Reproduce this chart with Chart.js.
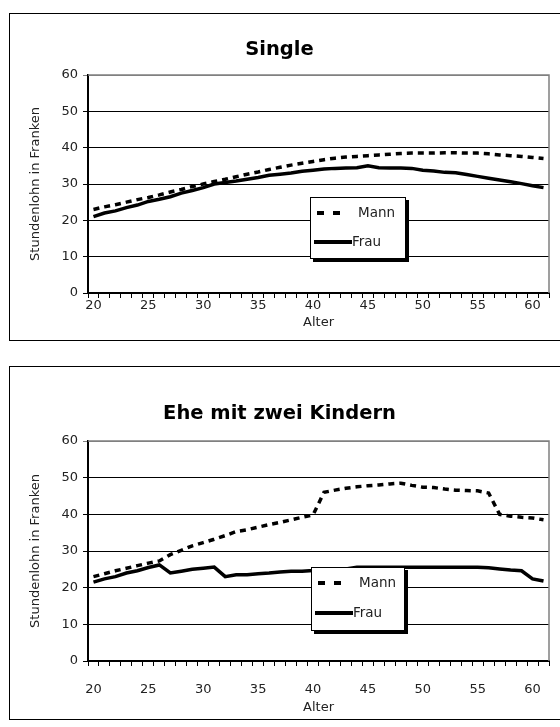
<!DOCTYPE html>
<html>
<head>
<meta charset="utf-8">
<script src="https://cdn.jsdelivr.net/npm/chart.js@4.4.1/dist/chart.umd.min.js"></script>
<style>
  body { margin: 0; background: #fff; width: 560px; height: 727px; overflow: hidden; position: relative; font-family: "DejaVu Sans", sans-serif; }
  .box { position: absolute; left: 9px; width: 560px; border: 1px solid #000; background: #fff; }
  #box1 { top: 13px; height: 326px; }
  #box2 { top: 366px; height: 352px; }
  canvas { display: block; }
  .legend { position: absolute; background: #fff; border: 1px solid #000; box-shadow: 3px 3px 0 #000; font-size: 13.5px; color: #222; }
  .row { position: absolute; left: 0; height: 18px; line-height: 18px; }
  .sample { position: absolute; top: 8px; height: 4px; background: #000; }
  .txt { position: absolute; left: 41px; top: 0; }
</style>
</head>
<body>
<div class="box" id="box1"><canvas id="single" width="560" height="326"></canvas></div>
<div class="box" id="box2"><canvas id="ehe" width="560" height="352"></canvas></div>

<div class="legend" style="left:310px;top:197px;width:94px;height:60px;">
  <div class="row" style="top:5px;"><div class="sample" style="left:6px;width:7px"></div><div class="sample" style="left:22px;width:7px"></div><span class="txt" style="left:47px">Mann</span></div>
  <div class="row" style="top:34px;"><div class="sample" style="left:3px;width:38px"></div><span class="txt">Frau</span></div>
</div>
<div class="legend" style="left:311px;top:567px;width:92px;height:62px;">
  <div class="row" style="top:5px;"><div class="sample" style="left:6px;width:7px"></div><div class="sample" style="left:22px;width:7px"></div><span class="txt" style="left:47px">Mann</span></div>
  <div class="row" style="top:35px;"><div class="sample" style="left:3px;width:38px"></div><span class="txt">Frau</span></div>
</div>

<script>
// Alter (x-axis categories)
const ages = [20, 21, 22, 23, 24, 25, 26, 27, 28, 29, 30, 31, 32, 33, 34, 35, 36, 37, 38, 39, 40,
  41, 42, 43, 44, 45, 46, 47, 48, 49, 50, 51, 52, 53, 54, 55, 56, 57, 58, 59, 60, 61];

// Single
const singleMann = [23, 23.7, 24.3, 25, 25.7, 26.3, 27, 27.8, 28.5, 29.3, 30, 30.7, 31.3, 32, 32.7, 33.3, 34, 34.6, 35.2, 35.7, 36.2,
  36.7, 37.1, 37.4, 37.6, 37.8, 38, 38.2, 38.4, 38.5, 38.5, 38.5, 38.6, 38.6, 38.5, 38.5, 38.3, 38, 37.8, 37.6, 37.3, 37];
const singleFrau = [21, 22, 22.6, 23.5, 24.2, 25.2, 25.8, 26.5, 27.5, 28.2, 29, 30, 30.4, 30.8, 31.3, 31.8, 32.4, 32.7, 33, 33.5, 33.8,
  34.1, 34.3, 34.4, 34.5, 35, 34.5, 34.4, 34.4, 34.3, 33.8, 33.6, 33.2, 33.1, 32.6, 32.1, 31.6, 31.1, 30.6, 30.1, 29.5, 29];

// Ehe mit zwei Kindern
const eheMann = [23, 23.8, 24.6, 25.3, 26, 26.7, 27.3, 29, 30.2, 31.4, 32.3, 33.2, 34.2, 35.3, 35.8, 36.5, 37.2, 37.8, 38.5, 39.2, 39.8,
  46, 46.6, 47.1, 47.5, 47.8, 48, 48.3, 48.5, 47.9, 47.4, 47.3, 46.9, 46.6, 46.5, 46.4, 45.8, 40, 39.5, 39.2, 39, 38.5];
const eheFrau = [21.5, 22.4, 23, 24, 24.6, 25.5, 26.2, 24, 24.5, 25, 25.3, 25.6, 23, 23.5, 23.5, 23.8, 24, 24.3, 24.5, 24.5, 24.7,
  25, 25, 25.1, 25.6, 25.6, 25.6, 25.6, 25.6, 25.6, 25.6, 25.6, 25.6, 25.6, 25.6, 25.6, 25.4, 25.1, 24.8, 24.6, 22.4, 21.8];

const yTicks = [0, 10, 20, 30, 40, 50, 60];
const FONT = "'DejaVu Sans', sans-serif";
const TXT = "#222";

// grey frame on top and right of the plot area
const framePlugin = {
  id: "frame",
  afterDraw(chart) {
    const { ctx, chartArea: a } = chart;
    ctx.save();
    ctx.strokeStyle = "#808080";
    ctx.lineWidth = 1.5;
    ctx.beginPath();
    ctx.moveTo(a.left, a.top);
    ctx.lineTo(a.right, a.top);
    ctx.lineTo(a.right, a.bottom);
    ctx.stroke();
    ctx.restore();
  },
};

function makeChart(id, title, mann, frau, cfg) {
  const canvas = document.getElementById(id);
  return new Chart(canvas.getContext("2d"), {
    type: "line",
    data: {
      labels: ages,
      datasets: [
        { label: "Mann", data: mann, borderColor: "#000", borderWidth: 3.5, borderDash: [6, 5], pointRadius: 0, tension: 0 },
        { label: "Frau", data: frau, borderColor: "#000", borderWidth: 3.5, pointRadius: 0, tension: 0 },
      ],
    },
    options: {
      responsive: false,
      animation: false,
      layout: { padding: { left: 0, right: 21, top: 0, bottom: 0 } },
      plugins: {
        legend: { display: false },
        tooltip: { enabled: false },
        title: {
          display: true,
          text: title,
          color: "#000",
          font: { family: FONT, size: 19.5, weight: "bold" },
          padding: { top: cfg.titleTop, bottom: cfg.titleBottom },
        },
      },
      scales: {
        x: {
          type: "category",
          offset: true,
          afterFit: (s) => { s.height = cfg.xHeight; },
          border: { color: "#000", width: 2 },
          grid: { display: true, drawOnChartArea: false, drawTicks: true, tickLength: 5, color: "#000", lineWidth: 1, offset: true },
          ticks: {
            autoSkip: false,
            maxRotation: 0,
            padding: cfg.xTickPad,
            color: TXT,
            font: { family: FONT, size: 13 },
            callback: function (v, i) { return ages[i] % 5 === 0 ? String(ages[i]) : ""; },
          },
          title: { display: true, text: "Alter", color: TXT, font: { family: FONT, size: 13 }, padding: { top: 0, bottom: cfg.xTitlePad } },
        },
        y: {
          min: 0,
          max: 60,
          afterFit: (s) => { s.width = 78; },
          afterBuildTicks: (s) => { s.ticks = yTicks.map((v) => ({ value: v })); },
          border: { color: "#000", width: 2 },
          grid: {
            color: (c) => (c.tick && c.tick.value === 60 ? "#808080" : "#000"),
            lineWidth: 1,
            tickLength: 5,
          },
          ticks: { padding: 5, color: TXT, font: { family: FONT, size: 13 } },
          title: { display: true, text: "Stundenlohn in Franken", color: TXT, font: { family: FONT, size: 13 }, padding: { top: 18, bottom: 0 } },
        },
      },
    },
    plugins: [framePlugin],
  });
}

makeChart("single", "Single", singleMann, singleFrau, { titleTop: 24, titleBottom: 13.6, xHeight: 47, xTickPad: 0, xTitlePad: 10 });
makeChart("ehe", "Ehe mit zwei Kindern", eheMann, eheFrau, { titleTop: 35, titleBottom: 15.6, xHeight: 58, xTickPad: 16, xTitlePad: 4 });
</script>
</body>
</html>
